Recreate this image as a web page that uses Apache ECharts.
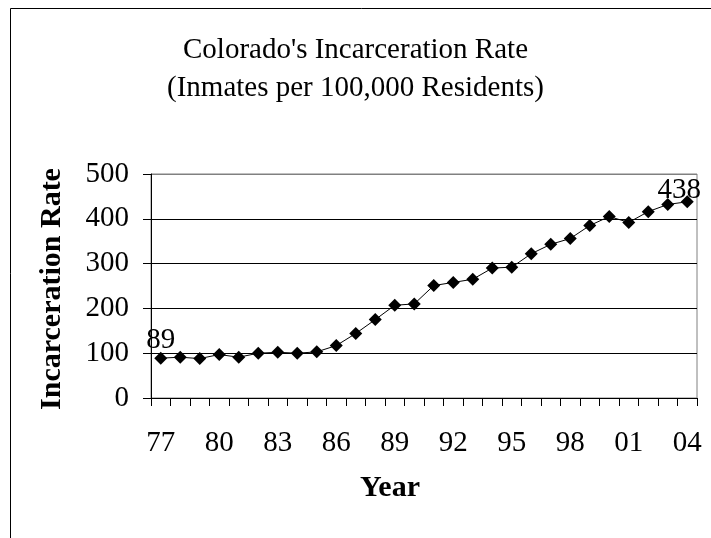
<!DOCTYPE html>
<html>
<head>
<meta charset="utf-8">
<script src="https://cdn.jsdelivr.net/npm/echarts@6/dist/echarts.min.js"></script>
<style>
  html, body { margin: 0; padding: 0; background: #fff; }
  #chart { width: 711px; height: 538px; }
</style>
</head>
<body>
<div id="chart"></div>
<script>
// Year labels (two-digit) for 1977 through 2004
const years = ['77','78','79','80','81','82','83','84','85','86','87','88','89','90',
               '91','92','93','94','95','96','97','98','99','00','01','02','03','04'];
// Inmates per 100,000 residents
const rates = [89, 91, 88, 97, 91, 100, 102, 100, 103, 117, 144, 175, 207, 210,
               251, 258, 265, 290, 292, 322, 343, 356, 385, 405, 392, 416, 432, 438];
const yTicks = [0, 100, 200, 300, 400, 500];

const serif = '"Liberation Serif", "Times New Roman", serif';
const last = rates.length - 1;

// Only the first and last points carry a value label
const seriesData = rates.map((v, i) => {
  if (i === 0) {
    return { value: v, label: { show: true, offset: [0, 7] } };
  }
  if (i === last) {
    return { value: v, label: { show: true, offset: [-8, 14] } };
  }
  return v;
});

const chart = echarts.init(document.getElementById('chart'));
chart.setOption({
  animation: false,
  backgroundColor: '#fff',
  title: {
    text: "Colorado's Incarceration Rate\n(Inmates per 100,000 Residents)",
    left: 'center',
    top: 26,
    textStyle: {
      fontFamily: serif,
      fontWeight: 'normal',
      fontSize: 29,
      lineHeight: 38,
      color: '#000'
    }
  },
  graphic: [{
    type: 'rect',
    shape: { x: 10.5, y: 8.5, width: 760, height: 600 },
    style: { fill: 'none', stroke: '#000', lineWidth: 1 },
    silent: true
  }],
  grid: {
    left: 151, right: 14, top: 174, bottom: 140,
    show: true, borderColor: '#808080', borderWidth: 1, backgroundColor: 'transparent'
  },
  xAxis: {
    type: 'category',
    data: years,
    boundaryGap: true,
    name: 'Year',
    nameLocation: 'middle',
    nameGap: 75,
    nameTextStyle: {
      fontFamily: serif, fontWeight: 'bold', fontSize: 30, color: '#000',
      padding: [0, 68, 0, 0]
    },
    axisLine: { lineStyle: { color: '#000', width: 1 } },
    axisTick: { show: true, interval: 0, length: 8, lineStyle: { color: '#000' } },
    axisLabel: { interval: 2, margin: 31, fontFamily: serif, fontSize: 29, color: '#000' },
    splitLine: { show: false }
  },
  yAxis: {
    type: 'value',
    min: 0, max: 500, interval: 100,
    name: 'Incarceration Rate',
    nameLocation: 'middle',
    nameGap: 84,
    nameTextStyle: {
      fontFamily: serif, fontWeight: 'bold', fontSize: 30, color: '#000',
      padding: [0, 6, 0, 0]
    },
    axisLine: { show: true, lineStyle: { color: '#000', width: 1 } },
    axisTick: { show: true, length: 8, lineStyle: { color: '#000' } },
    axisLabel: {
      margin: 22, fontFamily: serif, fontSize: 29, color: '#000',
      formatter: v => (yTicks.indexOf(v) >= 0 ? String(v) : '')
    },
    splitLine: {
      show: true,
      lineStyle: { color: ['#000', '#000', '#000', '#000', '#000', '#808080'], width: 1 }
    }
  },
  series: [{
    type: 'line',
    data: seriesData,
    symbol: 'diamond',
    symbolSize: 13,
    itemStyle: { color: '#000' },
    lineStyle: { color: '#000', width: 1 },
    label: {
      show: false,
      position: 'top',
      distance: 4,
      fontFamily: serif,
      fontSize: 29,
      color: '#000'
    }
  }]
});
</script>
</body>
</html>
